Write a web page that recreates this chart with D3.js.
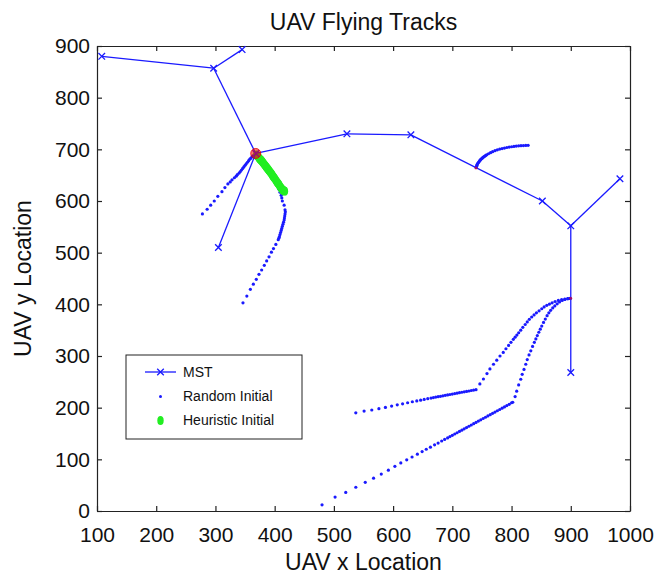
<!DOCTYPE html>
<html><head><meta charset="utf-8">
<script src="https://cdn.jsdelivr.net/npm/d3@7"></script>
<style>body{margin:0;background:#fff}svg{display:block}text{font-family:"Liberation Sans",Arial,Helvetica,sans-serif;fill:#111}</style>
</head><body>
<svg id="c" width="655" height="576"></svg>
<script>
const xTicks = [100,200,300,400,500,600,700,800,900,1000];
const yTicks = [0,100,200,300,400,500,600,700,800,900];

const mstNodes = [[108,880],[297,857],[345,893],[368,692],[305,510],[522,730],[630,728],[852,600],[900,552],[983,643],[900,268]];
const mstEdges = [[0,1],[1,2],[1,3],[3,4],[3,5],[5,6],[6,7],[7,8],[8,9],[8,10]];

const trackA = [[366,690],[364,688],[362,686],[360,683],[358,681],[356,678],[354,675],[352,672],[350,669],[348,666],[346,663],[344,660],[342,657],[340,654],[337,651],[335,648],[332,645],[328,641],[325,637],[321,633],[316,626],[311,618],[304,609],[298,600],[292,592],[286,584],[278,575]];
const trackB = [[370,688],[373,684],[376,679],[379,675],[382,670],[385,666],[388,661],[391,656],[394,651],[397,646],[400,640],[403,634],[405,629],[407,623],[409,617],[411,611],[412,606],[413,600],[416,592],[417.5,583],[418,579],[417.5,575],[417,571],[416.5,567],[416,563],[415,559],[414,555],[413,551],[412,547],[411,543],[410,539],[409,535],[408,531],[407,528],[406,525],[402,516],[398,508],[394.5,501],[390.5,492],[386.5,484],[382.5,475.5],[378,466.5],[373.5,458],[369,448.5],[364,439],[359,429],[353,416],[346.5,403]];
const trackC = [[740,665],[741,667],[741.5,669],[742,671],[743,673],[744,674.5],[745,676],[746,677.5],[747,679],[748,680.5],[749.5,682],[751,683.3],[752,684.5],[753.5,685.8],[755,687],[756.5,688.3],[758,689.5],[761,691.5],[764.5,693.5],[768,695.5],[772,697.5],[776,699],[780,700.5],[784,701.5],[788,702.5],[792,703.5],[796,704.3],[800,705],[804,705.7],[808,706.3],[812,706.7],[816,707],[820,707.3],[824,707.5],[828,707.7]];
const trackD1 = [[537,190],[551,193.5],[564,195.5],[576,198],[587,200.5],[597.5,203],[607,205.5],[616,207.5],[624.5,209.5],[632.5,211.5],[640,213],[646.5,214.5],[652.5,216],[658.5,217.5],[664,218.5],[668,219.5],[672,220.5],[676,221.3],[680,222],[684,223],[688,223.8],[692,224.7],[696,225.5],[700,226.4],[704,227.2],[708,228],[712,229],[716,229.8],[720,230.6],[724,231.5],[728,232.3],[732,233.2],[736,234],[740,234.8],[746.5,246],[752.5,255.5],[758.5,266],[763.5,275],[769.5,284],[775,292],[780.5,300],[786,307],[790.5,314],[795,320.5],[799,326.5],[803,332.3],[806,336.5],[809,340.5],[812,345],[815.5,350],[819,355.5],[823,361],[826.5,366],[830,371],[834,375.5],[838,379.5],[842,383.5],[846.5,387.5],[851,391.5],[855,395],[859.5,398],[864,400.5],[868.5,403],[873.5,405.5],[879,407.5],[884.5,409],[890,410],[895,411],[899,411.5]];
const trackD2 = [[480,12],[502,27],[520,36],[537,46],[553,55.5],[567,63.5],[580,71.5],[592,79],[603,86.5],[613,93],[623,99],[632,104.5],[641,110],[649,115],[656,119.5],[663,123.5],[670,128],[676,131.5],[682,135.5],[687,138.5],[692,141.5],[696,144],[700,146.5],[704,149],[708,151.5],[712,154],[716,156.5],[720,159],[724,161.5],[728,164],[732,166.5],[736,169],[740,171.5],[744,174],[748,176.5],[752,179],[756,181.5],[760,184],[764,186.5],[768,189],[772,191.5],[776,194],[780,196.5],[784,199],[788,201.5],[792,204],[796,206.5],[800,209.5],[802,210.5],[806,221.5],[808.7,232],[812,244],[815.5,255],[818,264.5],[821,274],[824,284],[826.5,293],[829.5,302],[832.5,310],[835.5,318.5],[838.5,326.5],[841,333],[843.5,339.5],[846,346],[848.5,352],[851,358],[854,365],[857,371.5],[860,378],[863,383.5],[866,388.5],[869.5,393],[873,397],[877,401],[881,404.5],[885.5,407.5],[890,409.5],[895,411],[899,411.5]];
const heuristic = [[369,689],[370,688],[371,687],[372,685.5],[373,684],[374,682.5],[375,681],[376,680],[377,679],[378,677.5],[379,676],[380,674.5],[381,673],[382,671.5],[383,670],[384,668.5],[385,667],[386,665.5],[387,664],[388,662.5],[389,661],[390,659.5],[391,658],[392,656.5],[393,655],[394,653.5],[395,652],[396,650],[397,648],[398,646.5],[399,645],[400,643.5],[401,642],[402,640],[403,638],[404,636.5],[405,635],[406,633.5],[407,632],[408,630],[409,628],[410,626.5],[411,625],[412,623.5],[413,622],[414,621],[415,620],[416,619.5],[417,619]];
const startPoints = [[368,692],[740,664],[900,412]];

const svg = d3.select("#c");
const L=97,R=630,T=46,B=511;
const x = d3.scaleLinear().domain([100,1000]).range([L,R]);
const y = d3.scaleLinear().domain([0,900]).range([B,T]);
const blue="#1a1aff";

// axes
const ax = svg.append("g");
ax.append("g").attr("transform",`translate(0,${B})`).call(d3.axisBottom(x).tickValues(xTicks).tickSizeInner(-5).tickSizeOuter(0).tickPadding(16).tickFormat(d3.format("d")));
ax.append("g").attr("transform",`translate(0,${T})`).call(d3.axisTop(x).tickValues(xTicks).tickSizeInner(-5).tickSizeOuter(0).tickFormat(""));
ax.append("g").attr("transform",`translate(${L},0)`).call(d3.axisLeft(y).tickValues(yTicks).tickSizeInner(-5).tickSizeOuter(0).tickPadding(7).tickFormat(d3.format("d")));
ax.append("g").attr("transform",`translate(${R},0)`).call(d3.axisRight(y).tickValues(yTicks).tickSizeInner(-5).tickSizeOuter(0).tickFormat(""));
ax.selectAll("path.domain").attr("stroke","#222").attr("stroke-width",1.2);
ax.selectAll(".tick line").attr("stroke","#222").attr("stroke-width",1.2);
ax.selectAll(".tick text").attr("font-size",21).attr("font-family",'"Liberation Sans",Arial,sans-serif').attr("fill","#111");

// tracks
const dots = svg.append("g");
[trackA,trackB,trackC,trackD1,trackD2].forEach(tr=>{
  dots.selectAll(null).data(tr).enter().append("circle")
    .attr("cx",d=>x(d[0])).attr("cy",d=>y(d[1])).attr("r",1.6).attr("fill",blue);
});
// heuristic
svg.append("g").selectAll("ellipse").data(heuristic).enter().append("ellipse")
  .attr("cx",d=>x(d[0])).attr("cy",d=>y(d[1])).attr("rx",3.4).attr("ry",4.4).attr("fill","#22ee22");

// MST
const mg = svg.append("g");
mg.selectAll("line").data(mstEdges).enter().append("line")
  .attr("x1",e=>x(mstNodes[e[0]][0])).attr("y1",e=>y(mstNodes[e[0]][1]))
  .attr("x2",e=>x(mstNodes[e[1]][0])).attr("y2",e=>y(mstNodes[e[1]][1]))
  .attr("stroke",blue).attr("stroke-width",1.3);
const cross = d3.symbol().type(d3.symbolX).size(30);
mg.selectAll("path").data(mstNodes).enter().append("path")
  .attr("d",cross).attr("transform",d=>`translate(${x(d[0])},${y(d[1])})`)
  .attr("stroke",blue).attr("stroke-width",1.3).attr("fill","none");

// start points
svg.append("g").selectAll("circle").data(startPoints).enter().append("circle")
  .attr("cx",d=>x(d[0])).attr("cy",d=>y(d[1])).attr("r",(d,i)=>i===0?5:1.5)
  .attr("fill","rgba(255,0,0,0.55)").attr("stroke",(d,i)=>i===0?"rgba(230,0,0,0.8)":"none");

// title & labels
svg.append("text").attr("x",(L+R)/2).attr("y",30).attr("text-anchor","middle").attr("font-size",23).text("UAV Flying Tracks");
svg.append("text").attr("x",(L+R)/2).attr("y",570).attr("text-anchor","middle").attr("font-size",23).text("UAV x Location");
svg.append("text").attr("transform",`translate(31,${(T+B)/2}) rotate(-90)`).attr("text-anchor","middle").attr("font-size",23).text("UAV y Location");

// legend
const lg = svg.append("g");
lg.append("rect").attr("x",126).attr("y",355).attr("width",176).attr("height",84).attr("fill","#fff").attr("stroke","#222").attr("stroke-width",1);
lg.append("line").attr("x1",145).attr("x2",176).attr("y1",372).attr("y2",372).attr("stroke",blue).attr("stroke-width",1.3);
lg.append("path").attr("d",cross).attr("transform","translate(160.5,372)").attr("stroke",blue).attr("stroke-width",1.3).attr("fill","none");
lg.append("circle").attr("cx",160.5).attr("cy",396.5).attr("r",1.5).attr("fill",blue);
lg.append("ellipse").attr("cx",160.5).attr("cy",420.5).attr("rx",3.2).attr("ry",4.5).attr("fill","#22ee22");
const names=["MST","Random Initial","Heuristic Initial"];
lg.selectAll("text.l").data(names).enter().append("text").attr("class","l")
  .attr("x",183).attr("y",(d,i)=>377+i*24).attr("font-size",14).text(d=>d);
</script>
</body></html>
